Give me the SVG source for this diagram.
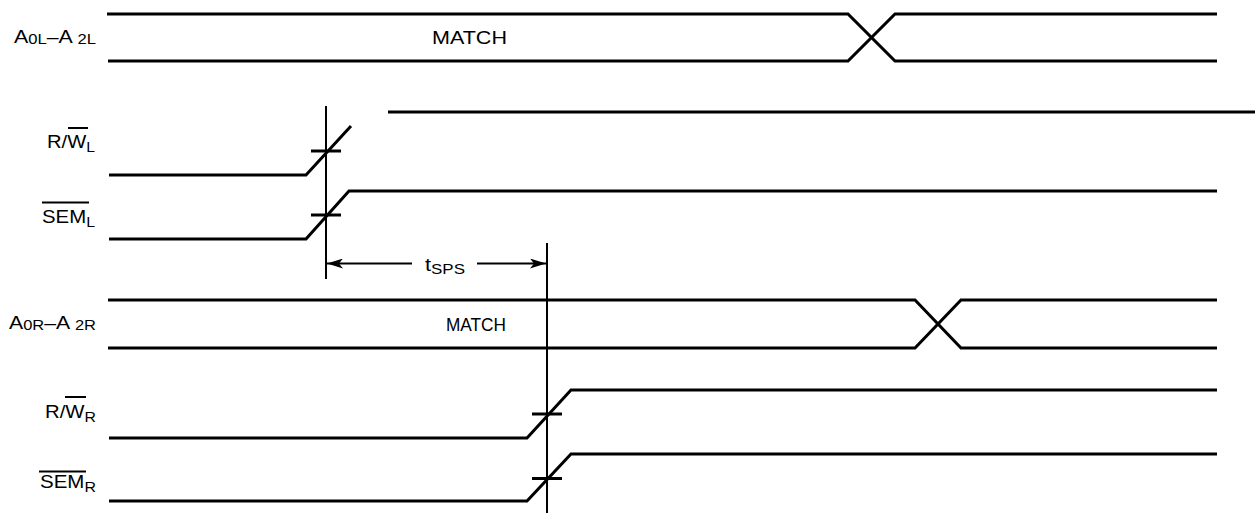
<svg xmlns="http://www.w3.org/2000/svg" width="1255" height="514" viewBox="0 0 1255 514">
<style>
.sig{fill:none;stroke:#000;stroke-width:3;stroke-linejoin:miter}
.thin{fill:none;stroke:#000;stroke-width:2}
.bar{stroke:#000;stroke-width:2}
.lbl{font-family:"Liberation Sans",Arial,sans-serif;font-size:18px;fill:#000}
.sub{font-size:14px}
</style>
<defs>
<marker id="ah" viewBox="0 0 16 10" refX="16" refY="5" markerWidth="16" markerHeight="10" markerUnits="userSpaceOnUse" orient="auto-start-reverse">
<path d="M0,0 L16,5 L0,10 L4,5 Z" fill="#000"/>
</marker>
</defs>
<rect width="1255" height="514" fill="#fff"/>
<g id="labels">
<text class="lbl" x="14" y="43" textLength="82" lengthAdjust="spacingAndGlyphs">A<tspan class="sub" dy="1">0L</tspan><tspan dy="-1">–A </tspan><tspan class="sub" dy="1">2L</tspan></text>
<text class="lbl" x="47" y="148" textLength="48" lengthAdjust="spacingAndGlyphs">R/W<tspan class="sub" dy="4">L</tspan></text>
<line class="bar" x1="68" y1="128" x2="88" y2="128"/>
<text class="lbl" x="42" y="223" textLength="53" lengthAdjust="spacingAndGlyphs">SEM<tspan class="sub" dy="4">L</tspan></text>
<line class="bar" x1="42" y1="202.5" x2="89" y2="202.5"/>
<text class="lbl" x="9" y="329" textLength="87" lengthAdjust="spacingAndGlyphs">A<tspan class="sub" dy="1">0R</tspan><tspan dy="-1">–A </tspan><tspan class="sub" dy="1">2R</tspan></text>
<text class="lbl" x="45" y="418" textLength="51" lengthAdjust="spacingAndGlyphs">R/W<tspan class="sub" dy="4">R</tspan></text>
<line class="bar" x1="65" y1="397" x2="86" y2="397"/>
<text class="lbl" x="40" y="488" textLength="56" lengthAdjust="spacingAndGlyphs">SEM<tspan class="sub" dy="4">R</tspan></text>
<line class="bar" x1="39" y1="471.5" x2="86" y2="471.5"/>
</g>
<g id="bus-left">
<path class="sig" d="M107,14 H848 L895,61 H1217"/>
<path class="sig" d="M108,61 H848 L895,14 H1217"/>
<text class="lbl" x="432" y="44" textLength="75" lengthAdjust="spacingAndGlyphs">MATCH</text>
</g>
<g id="rw-left">
<path class="sig" d="M109,175 H306 L351,126"/>
<path class="sig" d="M388,112 H1255"/>
<line class="sig" x1="311" y1="151" x2="341" y2="151"/>
</g>
<g id="sem-left">
<path class="sig" d="M109,239 H306 L349,191 H1217"/>
<line class="sig" x1="311" y1="215" x2="341" y2="215"/>
</g>
<g id="bus-right">
<path class="sig" d="M108,300 H915 L961,348 H1217"/>
<path class="sig" d="M108,348 H915 L961,300 H1217"/>
<text class="lbl" x="446" y="331" textLength="60" lengthAdjust="spacingAndGlyphs">MATCH</text>
</g>
<g id="rw-right">
<path class="sig" d="M109,438 H527 L571,390 H1217"/>
<line class="sig" x1="532" y1="414" x2="562" y2="414"/>
</g>
<g id="sem-right">
<path class="sig" d="M109,501 H527 L571,454 H1217"/>
<line class="sig" x1="532" y1="478.5" x2="562" y2="478.5"/>
</g>
<g id="connectors">
<line class="thin" x1="326" y1="106" x2="326" y2="279"/>
<line class="thin" x1="547" y1="243" x2="547" y2="513"/>
<line class="thin" x1="412" y1="263.5" x2="327" y2="263.5" marker-end="url(#ah)"/>
<line class="thin" x1="477" y1="263.5" x2="546" y2="263.5" marker-end="url(#ah)"/>
<text class="lbl" x="425" y="271" textLength="40" lengthAdjust="spacingAndGlyphs">t<tspan class="sub" dy="3">SPS</tspan></text>
</g>
</svg>
